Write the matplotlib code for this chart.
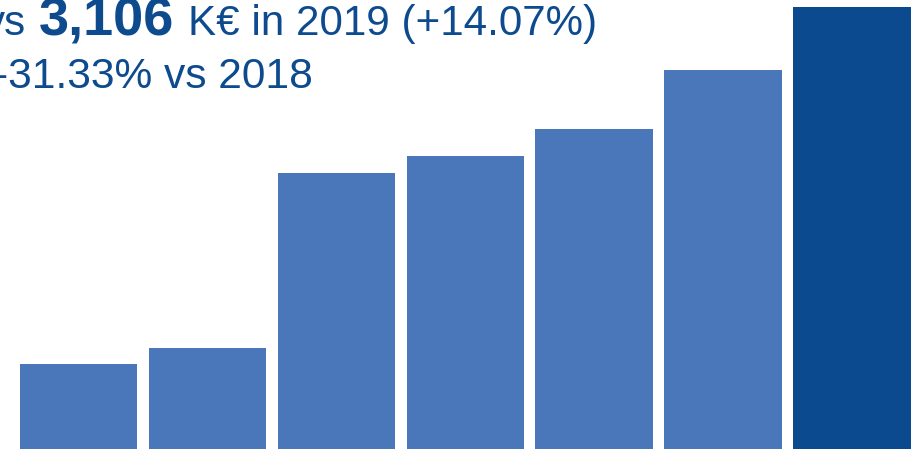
import numpy as np
import matplotlib
matplotlib.use("Agg")
import matplotlib.pyplot as plt

# yearly totals in K€ (last bar = 3,106)
years = ["2013", "2014", "2015", "2016", "2017", "2018", "2019"]
totals = [597, 710, 1940, 2059, 2249, 2663, 3106]
highlight = "2019"

light = "#4a77ba"
dark = "#0b4a8f"
txt_col = "#0d4b8e"

W, H = 914, 449
fig = plt.figure(figsize=(W / 100, H / 100), dpi=100)
ax = fig.add_axes([0, 0, 1, 1])
ax.set_axis_off()

x = np.arange(len(years))
colors = [dark if y == highlight else light for y in years]
ax.bar(x, totals, width=0.91, color=colors, edgecolor="none")

# pixel layout: first bar centre at 78.5 px, pitch 128.9 px
pitch, c0 = 128.9, 78.5
ax.set_xlim(-c0 / pitch, (W - c0) / pitch)
ax.set_ylim(0, totals[-1] * H / 442)

font = ["Liberation Sans", "DejaVu Sans"]
fs = 30.3

def px(xp, yp):
    return xp / W, 1 - yp / H

# first line: "vs 3,106 K€ in 2019 (+14.07%)", cut on the left
fig.text(*px(26, 35), "vs", ha="right", va="baseline", fontsize=fs,
         color=txt_col, family=font)
fig.text(*px(39, 35), "{:,}".format(totals[-1]), ha="left", va="baseline",
         fontsize=39, fontweight="bold", color=txt_col, family=font)
fig.text(*px(188, 35), "K€ in 2019 (+14.07%)", ha="left", va="baseline",
         fontsize=fs, color=txt_col, family=font)

# second line, the minus sign is cut by the left edge
fig.text(*px(-6, 88), "-31.33% vs 2018", ha="left", va="baseline",
         fontsize=30.6, color=txt_col, family=font)

fig.savefig("out.png", dpi=100)
